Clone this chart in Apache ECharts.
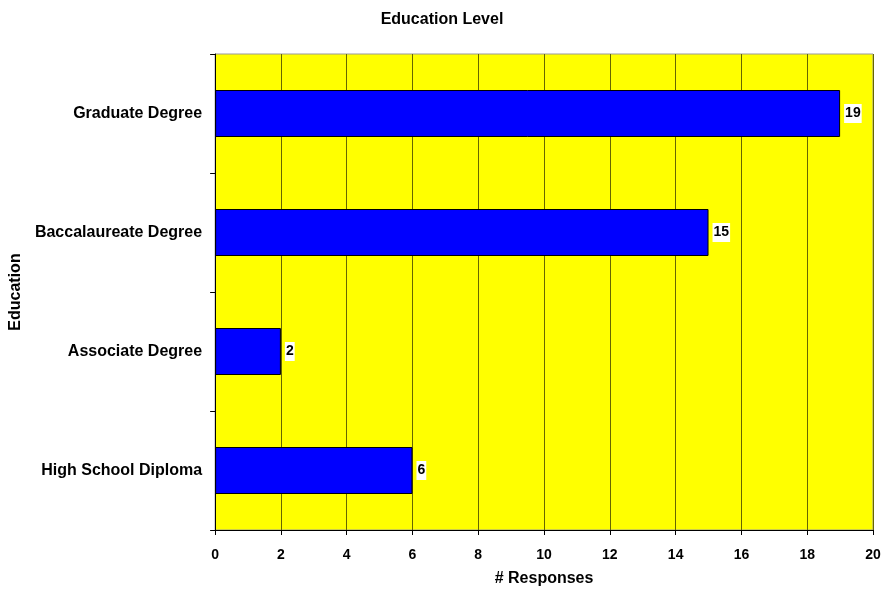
<!DOCTYPE html>
<html>
<head>
<meta charset="utf-8">
<script src="https://cdn.jsdelivr.net/npm/echarts@6/dist/echarts.min.js"></script>
<style>html,body{margin:0;padding:0;background:#fff}#c{width:884px;height:594px}</style>
</head>
<body>
<div id="c"></div>
<script>
// Education level survey responses
const categories = ['High School Diploma', 'Associate Degree', 'Baccalaureate Degree', 'Graduate Degree'];
const responses = [6, 2, 15, 19];
const xTicks = [0, 2, 4, 6, 8, 10, 12, 14, 16, 18, 20];

const chart = echarts.init(document.getElementById('c'), null, { renderer: 'canvas' });
const font = 'Arial, "Liberation Sans", sans-serif';
chart.setOption({
  animation: false,
  title: {
    text: 'Education Level', left: 'center', top: 7,
    textStyle: { fontFamily: font, fontSize: 16, fontWeight: 'bold', color: '#000' }
  },
  grid: { left: 215, right: 11, top: 54, bottom: 64, show: true, backgroundColor: '#ffff00', borderColor: '#999', borderWidth: 1 },
  xAxis: {
    type: 'value', min: xTicks[0], max: xTicks[xTicks.length - 1], interval: 2,
    name: '# Responses', nameLocation: 'middle', nameGap: 41,
    nameTextStyle: { fontFamily: font, fontSize: 16, fontWeight: 'bold', color: '#000' },
    axisLine: { show: true, lineStyle: { color: '#000', width: 1 } },
    axisTick: { show: true, length: 5, lineStyle: { color: '#000' } },
    axisLabel: { fontFamily: font, fontSize: 14, fontWeight: 'bold', color: '#000', margin: 18 },
    splitLine: { show: true, lineStyle: { color: '#666600', width: 1 } }
  },
  yAxis: {
    type: 'category', data: categories,
    name: 'Education', nameLocation: 'middle', nameGap: 187, nameRotate: 90,
    nameTextStyle: { fontFamily: font, fontSize: 16, fontWeight: 'bold', color: '#000' },
    axisLine: { show: true, lineStyle: { color: '#000', width: 1 } },
    axisTick: { show: true, length: 5, lineStyle: { color: '#000' } },
    axisLabel: { fontFamily: font, fontSize: 16, fontWeight: 'bold', color: '#000', margin: 13 },
    splitLine: { show: false }
  },
  series: [{
    type: 'bar', data: responses, barWidth: 47,
    itemStyle: { color: '#0000ff', borderColor: '#000', borderWidth: 1 },
    label: {
      show: true, position: 'right', distance: 4,
      fontFamily: font, fontSize: 14, fontWeight: 'bold', color: '#000',
      backgroundColor: '#fff', padding: [3, 1, 2, 1]
    }
  }]
});
</script>
</body>
</html>
